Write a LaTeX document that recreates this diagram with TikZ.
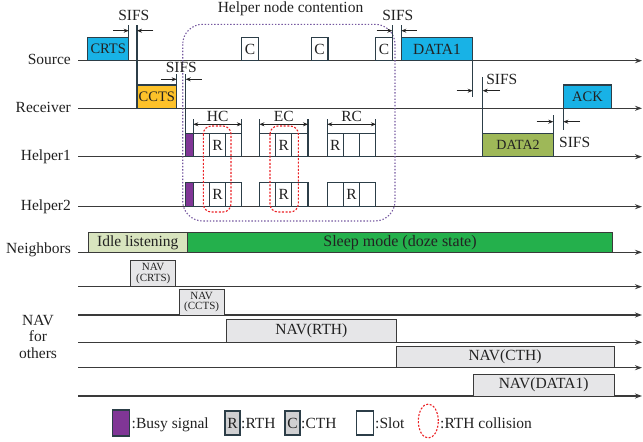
\documentclass[tikz,border=0pt]{standalone}
\usepackage{fontspec}
\setmainfont{Liberation Serif}
\usetikzlibrary{arrows.meta,shapes.geometric}

\definecolor{crtscol}{RGB}{24,178,230}
\definecolor{cctscol}{RGB}{253,194,42}
\definecolor{data2col}{RGB}{158,184,88}
\definecolor{busycol}{RGB}{128,54,150}
\definecolor{idlecol}{RGB}{216,228,190}
\definecolor{sleepcol}{RGB}{36,176,76}
\definecolor{navcol}{RGB}{230,230,232}
\definecolor{legcol}{RGB}{208,208,210}
\definecolor{edgecol}{RGB}{44,62,72}
\definecolor{linecol}{RGB}{58,58,58}
\definecolor{contcol}{RGB}{118,88,160}
\definecolor{collcol}{RGB}{236,32,36}
\definecolor{txtcol}{RGB}{34,34,34}

\begin{document}
\begin{tikzpicture}[x=1pt,y=-1pt,
  axis/.style={draw=linecol, line width=1.1pt, -{Stealth[length=7pt,width=5pt]}},
  pkt/.style={draw=edgecol, line width=1.1pt, inner sep=0pt, outer sep=0pt,
    text=txtcol, font=\fontsize{14.5}{16}\selectfont},
  slotbox/.style={pkt, fill=white, minimum width=16.2pt, minimum height=23.4pt,
    font=\fontsize{15.5}{17}\selectfont},
  navbox/.style={draw=linecol, line width=1pt, fill=navcol, inner sep=0pt, outer sep=0pt,
    text=txtcol, font=\fontsize{15.5}{17}\selectfont},
  smallnav/.style={navbox, align=center, font=\fontsize{11}{10.5}\selectfont},
  tick/.style={draw=edgecol, line width=1.1pt},
  sifs/.style={draw=txtcol, line width=0.9pt, -{Stealth[length=5pt,width=4pt]}},
  dimarrow/.style={draw=txtcol, line width=0.9pt,
    {Stealth[length=5pt,width=4pt]}-{Stealth[length=5pt,width=4pt]}},
  lbl/.style={inner sep=0pt, text=txtcol, font=\fontsize{15.5}{17}\selectfont},
  contention/.style={draw=contcol, line width=1.1pt, dash pattern=on 1.4pt off 1.8pt},
  collision/.style={draw=collcol, line width=1.1pt, dash pattern=on 2pt off 1.6pt}]

\fill[white] (0,0) rectangle (643,442);
\useasboundingbox (0,0) rectangle (643,442);

% ---- time axes ----
\foreach \yy in {60.7,108.3,156.7,206.7,252.3,286.7,315,342.3,367.7,396}
  \draw[axis] (78.3,\yy) -- (642,\yy);

% ---- row labels ----
\node[lbl, anchor=base east] (lsrc) at (71,64.6) {Source};
\node[lbl, anchor=base east] (lrcv) at (71,112.2) {Receiver};
\node[lbl, anchor=base east] (lh1) at (71,160.6) {Helper1};
\node[lbl, anchor=base east] (lh2) at (71,210.6) {Helper2};
\node[lbl, anchor=base east] (lnb) at (71,253.8) {Neighbors};
\node[lbl, anchor=base] (lnav1) at (38,325.5) {NAV};
\node[lbl, anchor=base] (lnav2) at (38,341.8) {for};
\node[lbl, anchor=base] (lnav3) at (38,358) {others};

% ---- helper node contention frame ----
\draw[contention, rounded corners=20pt] (182.7,24.3) rectangle (395,221);
\node[lbl, anchor=base] (hnc) at (290.5,12.2) {Helper node contention};

% ---- source ----
\node[pkt, fill=crtscol, minimum width=41pt, minimum height=23.4pt] (crts) at (108.2,49) {CRTS};
\node[slotbox, minimum width=16.7pt] (c1) at (250,49) {C};
\node[slotbox, minimum width=16.7pt] (c2) at (319.6,49) {C};
\node[slotbox, minimum width=16.7pt] (c3) at (384,49) {C};
\node[pkt, fill=crtscol, minimum width=71.4pt, minimum height=23.4pt,
  font=\fontsize{15.5}{17}\selectfont] (data1) at (437,49) {DATA1};

% ---- receiver ----
\node[pkt, fill=cctscol, minimum width=39.7pt, minimum height=23.3pt] (ccts) at (156.85,96.65) {CCTS};
\node[pkt, fill=crtscol, minimum width=48.4pt, minimum height=23.3pt] (ack) at (587.5,96.65) {ACK};

% ---- helpers ----
\node[pkt, fill=busycol, minimum width=7.6pt, minimum height=23.4pt] (busy1) at (189.5,145) {};
\node[pkt, fill=busycol, minimum width=7.6pt, minimum height=24pt] (busy2) at (189.5,194.7) {};
\node[pkt, fill=data2col, minimum width=70.6pt, minimum height=23.4pt,
  font=\fontsize{14}{16}\selectfont] (data2) at (518,145) {DATA2};

\foreach \nm/\xx/\tt in {h1a1/201.4/{}, h1a2/217.6/R, h1a3/233.8/{},
                         h1b1/267.5/{}, h1b2/283.7/R, h1b3/299.9/{},
                         h1c1/335.4/R, h1c2/351.6/{}, h1c3/367.8/{}}
  \node[slotbox] (\nm) at (\xx,145) {\tt};
\foreach \nm/\xx/\tt in {h2a1/201.4/{}, h2a2/217.6/R, h2a3/233.8/{},
                         h2b1/267.5/{}, h2b2/283.7/R, h2b3/299.9/{},
                         h2c1/335.4/{}, h2c2/351.6/R, h2c3/367.8/{}}
  \node[slotbox, minimum height=24pt] (\nm) at (\xx,194.7) {\tt};

% contention phase brackets
\foreach \g/\lab in {a/HC, b/EC, c/RC} {
  \draw[tick] (h1\g1.north west) -- ++(0,-14);
  \draw[tick] (h1\g3.north east) -- ++(0,-14);
  \draw[dimarrow] ([yshift=9pt]h1\g1.north west) --
    node[lbl, anchor=base, yshift=2.8pt] (ph\g) {\lab} ([yshift=9pt]h1\g3.north east);
}

% RTH collisions
\draw[collision, rounded corners=8pt] (203.3,126) rectangle (231,212);
\draw[collision, rounded corners=8pt] (270,126) rectangle (298.3,212);

% ---- SIFS markers ----
\draw[tick] (crts.north east) -- ++(0,-12.3);
\draw[tick] (ccts.north west) -- (ccts.north west |- 0,25);
\draw[tick] (ccts.north east) -- ++(0,-11);
\draw[tick] (busy1.north west) -- ++(0,-59.3);
\draw[tick] (c3.north east) -- ++(0,-12.3);
\draw[tick] (data1.north west) -- ++(0,-12.3);
\draw[tick] (data1.south east) -- ++(0,36);
\draw[tick] (data2.north west) -- ++(0,-56);
\draw[tick] (data2.north east) -- ++(0,-18.3);
\draw[tick] (ack.south west) -- ++(0,21.7);

\coordinate (s1a) at (113.3,30.7);  \coordinate (s1b) at (153.3,30.7);
\coordinate (s2a) at (161,79.3);    \coordinate (s2b) at (201.7,79.3);
\coordinate (s3a) at (376.7,30.7);  \coordinate (s3b) at (416.7,30.7);
\coordinate (s4a) at (456.7,90.7);  \coordinate (s4b) at (500,90.7);
\coordinate (s5a) at (536.7,121.7); \coordinate (s5b) at (580,121.7);
\draw[sifs] (s1a) -- (s1a -| crts.east);
\draw[sifs] (s1b) -- (s1b -| ccts.west);
\draw[sifs] (s2a) -- (s2a -| ccts.east);
\draw[sifs] (s2b) -- (s2b -| busy1.west);
\draw[sifs] (s3a) -- (s3a -| c3.east);
\draw[sifs] (s3b) -- (s3b -| data1.west);
\draw[sifs] (s4a) -- (s4a -| data1.east);
\draw[sifs] (s4b) -- (s4b -| data2.west);
\draw[sifs] (s5a) -- (s5a -| data2.east);
\draw[sifs] (s5b) -- (s5b -| ack.west);

\node[lbl, anchor=base] (sf1) at (133.8,20.6) {SIFS};
\node[lbl, anchor=base] (sf2) at (181.3,72.6) {SIFS};
\node[lbl, anchor=base] (sf3) at (397.8,20.6) {SIFS};
\node[lbl, anchor=base] (sf4) at (501.8,84) {SIFS};
\node[lbl, anchor=base] (sf5) at (574.7,147.6) {SIFS};

% ---- neighbors ----
\node[navbox, fill=idlecol, minimum width=99pt, minimum height=20pt] (idle) at (137.8,242.3) {Idle listening};
\node[navbox, fill=sleepcol, minimum width=425.4pt, minimum height=20pt,
  font=\fontsize{16}{17}\selectfont] (sleep) at (400,242.3) {Sleep mode (doze state)};

% ---- NAV for others ----
\node[smallnav, minimum width=45pt, minimum height=26pt] (navcrts) at (153.2,273.7) {NAV\\(CRTS)};
\node[smallnav, minimum width=44.7pt, minimum height=25.7pt] (navccts) at (201.65,302.15) {NAV\\(CCTS)};
\node[navbox, minimum width=169.3pt, minimum height=23pt] (navrth) at (311.35,330.8) {NAV(RTH)};
\node[navbox, minimum width=218pt, minimum height=21.7pt] (navcth) at (505,356.85) {NAV(CTH)};
\node[navbox, minimum width=140.7pt, minimum height=21.7pt] (navdata) at (543.65,385.15) {NAV(DATA1)};

% ---- legend ----
\node[pkt, fill=busycol, minimum width=16.6pt, minimum height=26pt] (lgbusy) at (121,423) {};
\node[lbl, anchor=base west] (lgbusyt) at (131.5,428) {:Busy signal};
\node[slotbox, fill=legcol, minimum width=15pt, minimum height=24pt] (lgr) at (232.5,423) {R};
\node[lbl, anchor=base west] (lgrt) at (241,428) {:RTH};
\node[slotbox, fill=legcol, minimum width=15pt, minimum height=24pt] (lgc) at (292.5,423) {C};
\node[lbl, anchor=base west] (lgct) at (301,428) {:CTH};
\node[slotbox, minimum width=17.3pt, minimum height=24pt] (lgs) at (364.7,423) {};
\node[lbl, anchor=base west] (lgst) at (375,428) {:Slot};
\node[collision, ellipse, inner sep=0pt, minimum width=20pt, minimum height=34pt] (lgcol) at (428.3,421) {};
\node[lbl, anchor=base west] (lgcolt) at (440,428) {:RTH collision};

\end{tikzpicture}
\end{document}
